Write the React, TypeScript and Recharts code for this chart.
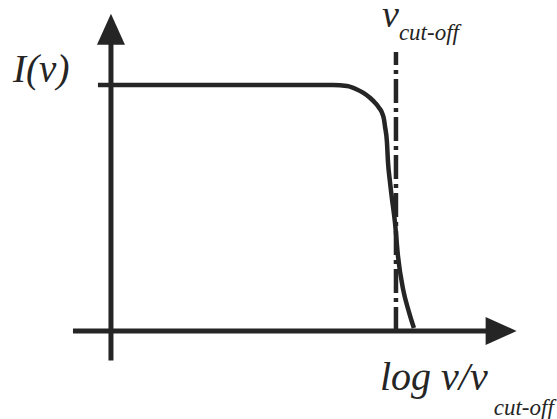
import React from "react";
import {
  LineChart,
  Line,
  XAxis,
  YAxis,
  ReferenceLine,
  ReferenceDot,
} from "recharts";

// log(nu / nu_cut-off) along x, normalised intensity along y
const curveX = [-3.137, -0.8, -0.663, -0.516, -0.411, -0.347, -0.274, -0.221, -0.179, -0.147, -0.126, -0.116, -0.095, -0.084, -0.063, -0.042, -0.011, 0.021, 0.074, 0.137, 0.189];
const curveY = [1, 1, 1, 0.996, 0.982, 0.969, 0.948, 0.928, 0.908, 0.887, 0.86, 0.833, 0.768, 0.687, 0.606, 0.537, 0.443, 0.305, 0.171, 0.077, 0.012];

const cutOff = 0;
const cutOffTop = 1.134;
const xAxisRange = [-3.4, 1.27];
const yAxisRange = [-0.12, 1.29];

const xDomain = [-4.168, 1.695];
const yDomain = [-0.3577, 1.3455];

const data = curveX.map((x, i) => ({ x, y: curveY[i] }));

const INK = "#252525";
const FONT = "'Liberation Serif', 'DejaVu Serif', serif";

const ArrowUp = (props: any) => {
  const { cx, cy } = props;
  return <polygon points={`${cx},${cy} ${cx - 14},${cy + 31} ${cx + 14},${cy + 31}`} fill={INK} />;
};

const ArrowRight = (props: any) => {
  const { cx, cy } = props;
  return <polygon points={`${cx},${cy} ${cx - 31},${cy - 14} ${cx - 31},${cy + 14}`} fill={INK} />;
};

const makeLabel = (main: string, sub: string, subShift: number, size: number, subGap = 0) => (props: any) => {
  const { cx, cy } = props;
  return (
    <text x={cx} y={cy} fill={INK} fontFamily={FONT} fontStyle="italic" fontSize={size}>
      <tspan>{main}</tspan>
      {sub && (
        <tspan dx={subGap} dy={subShift} fontSize={23}>
          {sub}
        </tspan>
      )}
    </text>
  );
};

export default function App() {
  return (
    <div style={{ position: "absolute", left: 0, top: 0, background: "#fff" }}>
      <LineChart width={557} height={419} data={data} margin={{ top: 0, right: 0, bottom: 0, left: 0 }}>
        <XAxis dataKey="x" type="number" domain={xDomain} allowDataOverflow hide />
        <YAxis type="number" domain={yDomain} allowDataOverflow hide />

        <ReferenceLine
          segment={[{ x: xAxisRange[0], y: 0 }, { x: xAxisRange[1] - 0.2, y: 0 }]}
          stroke={INK}
          strokeWidth={5}
        />
        <ReferenceLine
          segment={[{ x: -3, y: yAxisRange[0] }, { x: -3, y: yAxisRange[1] - 0.08 }]}
          stroke={INK}
          strokeWidth={5}
        />
        <ReferenceDot x={xAxisRange[1]} y={0} shape={ArrowRight} />
        <ReferenceDot x={-3} y={yAxisRange[1]} shape={ArrowUp} />

        <ReferenceLine
          segment={[{ x: cutOff, y: 0 }, { x: cutOff, y: cutOffTop }]}
          stroke={INK}
          strokeWidth={4.5}
          strokeDasharray="24 5 4 5"
        />

        <Line
          dataKey="y"
          type="monotone"
          stroke={INK}
          strokeWidth={4.5}
          dot={false}
          activeDot={false}
          isAnimationActive={false}
        />

        <ReferenceDot x={-4.03} y={1.012} shape={makeLabel("I(ν)", "", 0, 39)} />
        <ReferenceDot x={-0.147} y={1.236} shape={makeLabel("ν", "cut-off", 13, 38)} />
        <ReferenceDot x={-0.168} y={-0.24} shape={makeLabel("log ν/ν", "cut-off", 25, 40, 6)} />
      </LineChart>
    </div>
  );
}
